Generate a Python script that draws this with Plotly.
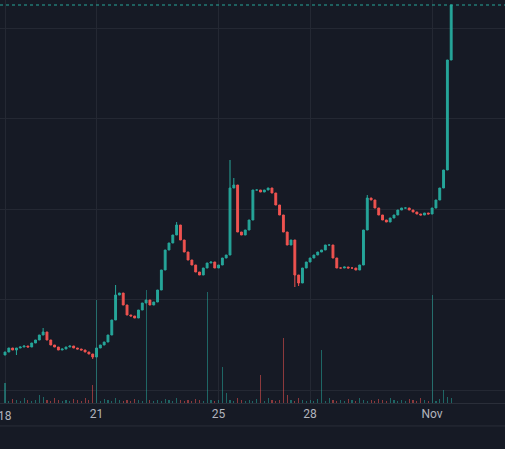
import plotly.graph_objects as go
import pandas as pd

closes = [.48,.52,.50,.52,.53,.54,.53,.57,.60,.65,.68,.60,.55,.53,.50,.51,.53,.54,.52,.51,.50,.48,.46,.43,
          .52,.55,.58,.65,.80,1.05,1.07,.95,.85,.84,.82,.90,.97,1.00,.95,.98,1.10,1.30,1.50,1.57,1.65,1.75,
          1.60,1.48,1.40,1.35,1.28,1.25,1.32,1.37,1.38,1.32,1.35,1.42,1.45,2.12,2.15,1.68,1.65,1.70,1.80,
          2.10,2.10,2.08,2.10,2.12,2.07,1.95,1.85,1.68,1.55,1.60,1.25,1.17,1.32,1.38,1.42,1.45,1.48,1.50,
          1.55,1.55,1.42,1.32,1.32,1.33,1.32,1.32,1.30,1.35,1.70,2.02,2.00,1.92,1.85,1.80,1.78,1.82,1.85,
          1.90,1.92,1.92,1.90,1.88,1.86,1.85,1.87,1.86,1.92,2.00,2.12,2.30,3.40,3.95]
first_open = 0.45
wick_high = {10: 0.72, 29: 1.15, 45: 1.78, 59: 2.40, 60: 2.22, 95: 2.05}
wick_low = {23: 0.41, 76: 1.13, 77: 1.14, 3: 0.45}
volumes = {0: 20, 9: 8, 10: 6, 23: 18, 24: 103, 37: 113, 53: 111, 57: 36, 58: 10, 67: 28,
           73: 65, 74: 8, 83: 53, 112: 108, 115: 13, 116: 6}
base_vol = [3, 2, 4, 3, 2, 5, 3, 2]
tick_labels = ["18", "21", "25", "28", "Nov"]
tick_dates = ["2024-10-18", "2024-10-21", "2024-10-25", "2024-10-28", "2024-11-01"]

n = len(closes)
times = pd.date_range("2024-10-18 00:00", periods=n, freq="3h")
opens = [first_open] + closes[:-1]
highs = [max(o, c) for o, c in zip(opens, closes)]
lows = [min(o, c) for o, c in zip(opens, closes)]
for k, v in wick_high.items():
    highs[k] = v
for k, v in wick_low.items():
    lows[k] = v
vols = [volumes.get(i, base_vol[i % len(base_vol)]) for i in range(n)]
UP, DN = "#26a69a", "#ef5350"
vcol = ["rgba(38,166,154,0.55)" if c >= o else "rgba(239,83,80,0.55)" for o, c in zip(opens, closes)]

fig = go.Figure()
fig.add_trace(go.Bar(x=times, y=vols, marker_color=vcol, marker_line_width=0, yaxis="y2",
                     width=3600*1000*0.9))
fig.add_trace(go.Candlestick(x=times, open=opens, high=highs, low=lows, close=closes,
                             increasing=dict(line=dict(color=UP, width=1), fillcolor=UP),
                             decreasing=dict(line=dict(color=DN, width=1), fillcolor=DN),
                             whiskerwidth=0))
fig.add_shape(type="line", xref="paper", x0=0, x1=1, yref="y", y0=3.95, y1=3.95,
              line=dict(color=UP, width=1, dash="dot"))
fig.add_annotation(x=tick_dates[0], xref="x", y=0, yref="paper", yanchor="top", yshift=-4,
                   text=tick_labels[0], showarrow=False,
                   font=dict(color="#b2b5be", size=12, family="Roboto"))
fig.update_layout(
    width=505, height=449, margin=dict(l=0, r=0, t=0, b=46),
    paper_bgcolor="#161a25", plot_bgcolor="#161a25", showlegend=False,
    xaxis=dict(range=["2024-10-17 20:04", "2024-11-03 09:20"], rangeslider=dict(visible=False),
               tickvals=tick_dates, ticktext=tick_labels, gridcolor="#242833",
               tickfont=dict(color="#b2b5be", size=12, family="Roboto"),
               showline=True, linecolor="#2a2e39", zeroline=False, ticks=""),
    yaxis=dict(range=[-0.03, 4.0], tick0=0.1, dtick=0.905, showticklabels=False,
               gridcolor="#242833", zeroline=False),
    yaxis2=dict(range=[0, 403], overlaying="y", showticklabels=False, showgrid=False, zeroline=False),
    bargap=0,
)
fig.add_shape(type="line", xref="paper", x0=0, x1=1, yref="paper", y0=-0.057, y1=-0.057,
              line=dict(color="#2a2e39", width=1))
fig.write_html("out.html", config={"displayModeBar": False},
               post_script="document.body.style.margin='0';document.body.style.background='#161a25';")
